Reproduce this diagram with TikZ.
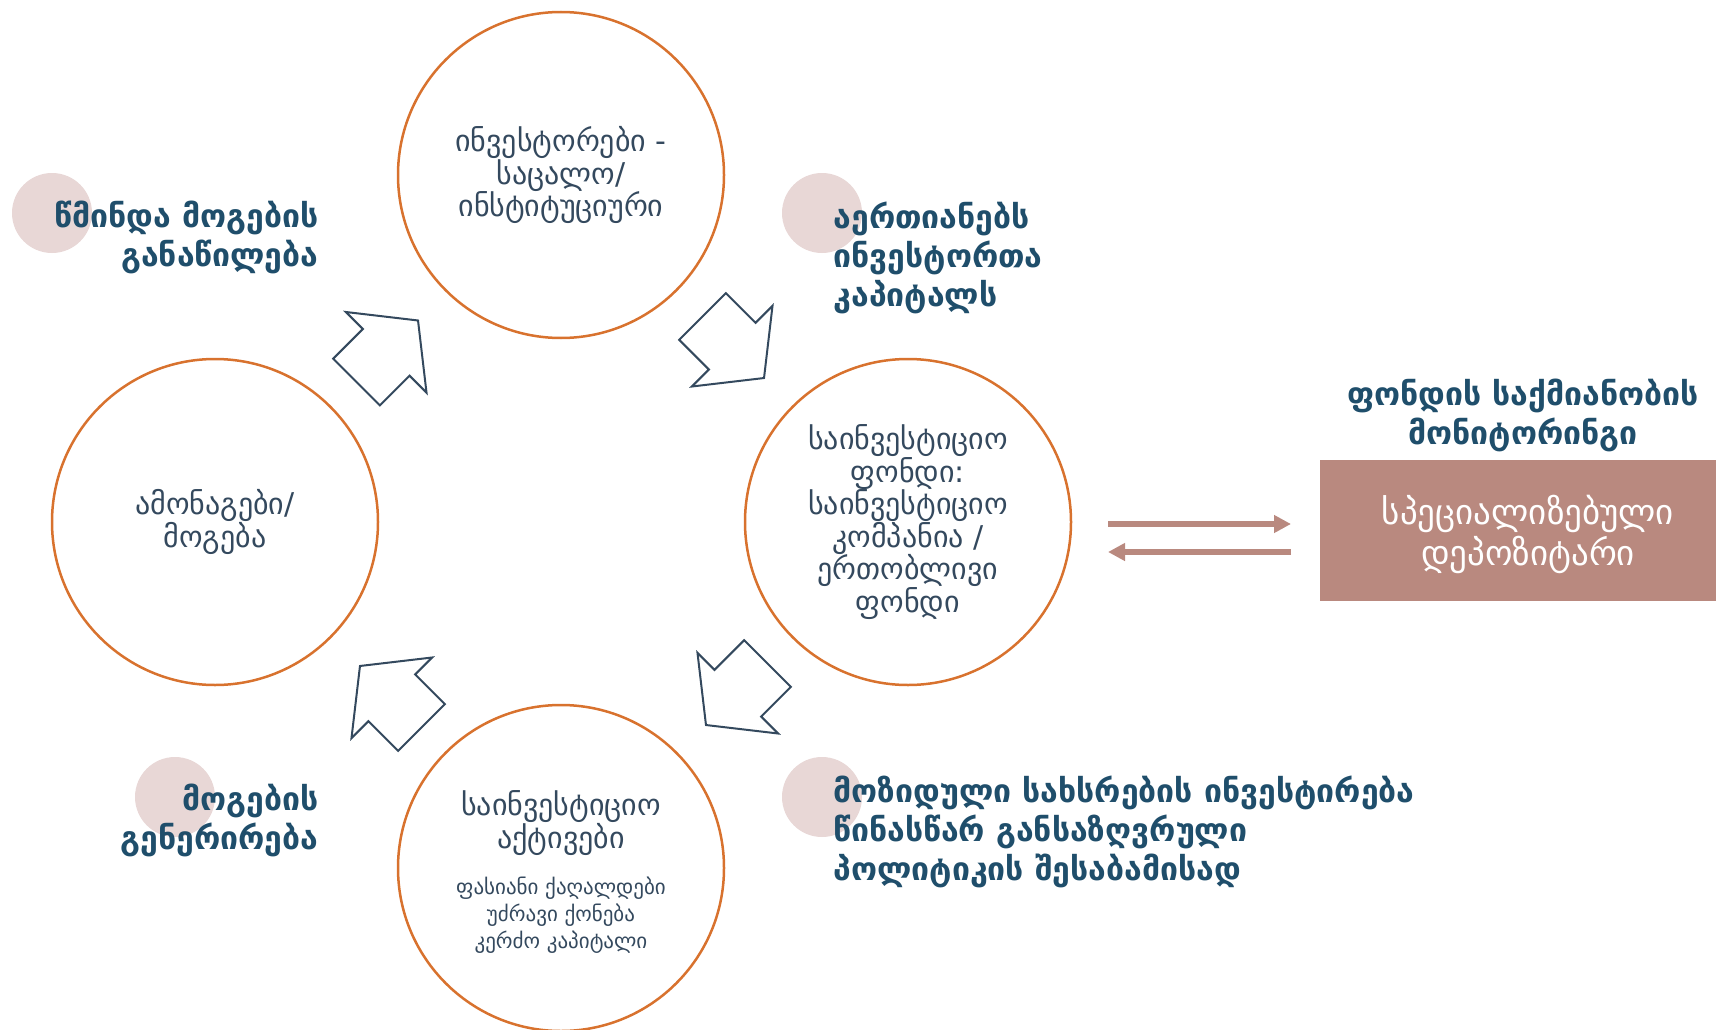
\documentclass[tikz,border=0pt]{standalone}
\usepackage{fontspec}
\setmainfont{DejaVu Sans}
\usepackage{tikz}
\usetikzlibrary{positioning, arrows.meta}

\definecolor{ringorange}{HTML}{D8722E}
\definecolor{slatetext}{HTML}{34495E}
\definecolor{labelblue}{HTML}{1F4E6B}
\definecolor{dotpink}{HTML}{E8D7D6}
\definecolor{boxrose}{HTML}{B9897F}

\tikzset{
    blockarrow/.pic={
        \draw[slatetext, line width=2pt, line join=miter]
            (0,-33) -- (42,-33) -- (42,-57) -- (87,0) -- (42,57) -- (42,33) -- (0,33) -- cycle;
    }
}

\begin{document}
\begin{tikzpicture}[x=1pt, y=-1pt,
    ring/.style={circle, draw=ringorange, line width=2.5pt, minimum size=326pt, inner sep=0pt},
    ringtext/.style={text=slatetext, font=\fontsize{30}{32.5}\selectfont, align=center},
    smalltext/.style={text=slatetext, font=\fontsize{21}{27}\selectfont, align=center},
    dot/.style={circle, fill=dotpink, minimum size=80pt, inner sep=0pt},
    steplabel/.style={text=labelblue, font=\bfseries\fontsize{32}{39}\selectfont},
    flow/.style={boxrose, line width=6pt, -{Triangle[length=17pt, width=17pt]}}
  ]
    \useasboundingbox (0,0) rectangle (1716,1030);

    % Define nodes
    \node[ring, ringtext] (investors) at (561,175) {ინვესტორები -\\საცალო/\\ინსტიტუციური};
    \node[ring, ringtext] (fund) at (908,522) {საინვესტიციო\\ფონდი:\\საინვესტიციო\\კომპანია /\\ერთობლივი\\ფონდი};
    \node[ring, ringtext] (returns) at (215,522) {ამონაგები/\\მოგება};
    \node[ring] (assets) at (561,868) {};
    \node[ringtext] (assetstitle) at (561,823) {საინვესტიციო\\აქტივები};
    \node[smalltext] (assetslist) at (561,915) {ფასიანი ქაღალდები\\უძრავი ქონება\\კერძო კაპიტალი};

    % Draw cycle arrows
    \pic[rotate=45] at (356.5,382) {blockarrow};
    \pic[rotate=-45] at (702.5,316.5) {blockarrow};
    \pic[rotate=-135] at (767.5,663.5) {blockarrow};
    \pic[rotate=135] at (421.5,727.5) {blockarrow};

    % Step labels
    \node[dot] (dot1) at (52,213) {};
    \node[dot] (dot2) at (822,213) {};
    \node[dot] (dot3) at (175,797) {};
    \node[dot] (dot4) at (822,797) {};
    \node[steplabel, align=right, anchor=east] (distribution) at (322,237) {წმინდა მოგების\\განაწილება};
    \node[steplabel, align=left, anchor=west] (pooling) at (830,258) {აერთიანებს\\ინვესტორთა\\კაპიტალს};
    \node[steplabel, align=right, anchor=east] (generation) at (322,820) {მოგების\\გენერირება};
    \node[steplabel, align=left, anchor=west] (investing) at (830,832) {მოზიდული სახსრების ინვესტირება\\წინასწარ განსაზღვრული\\პოლიტიკის შესაბამისად};

    % Depositary
    \node[steplabel, align=center] (monitoring) at (1523,415) {ფონდის საქმიანობის\\მონიტორინგი};
    \node[fill=boxrose, minimum width=396pt, minimum height=141pt, inner sep=0pt] (depositary) at (1518,530.5) {};
    \node[text=white, align=center, font=\fontsize{35}{41}\selectfont] (depositarytext) at (1528,534) {სპეციალიზებული\\დეპოზიტარი};

    % Draw arrows
    \coordinate (toL) at (1108,524);
    \coordinate (toR) at (1291,524);
    \coordinate (backR) at (1291,552);
    \coordinate (backL) at (1108,552);
    \draw[flow] (toL) -- (toR);
    \draw[flow] (backR) -- (backL);
\end{tikzpicture}
\end{document}
